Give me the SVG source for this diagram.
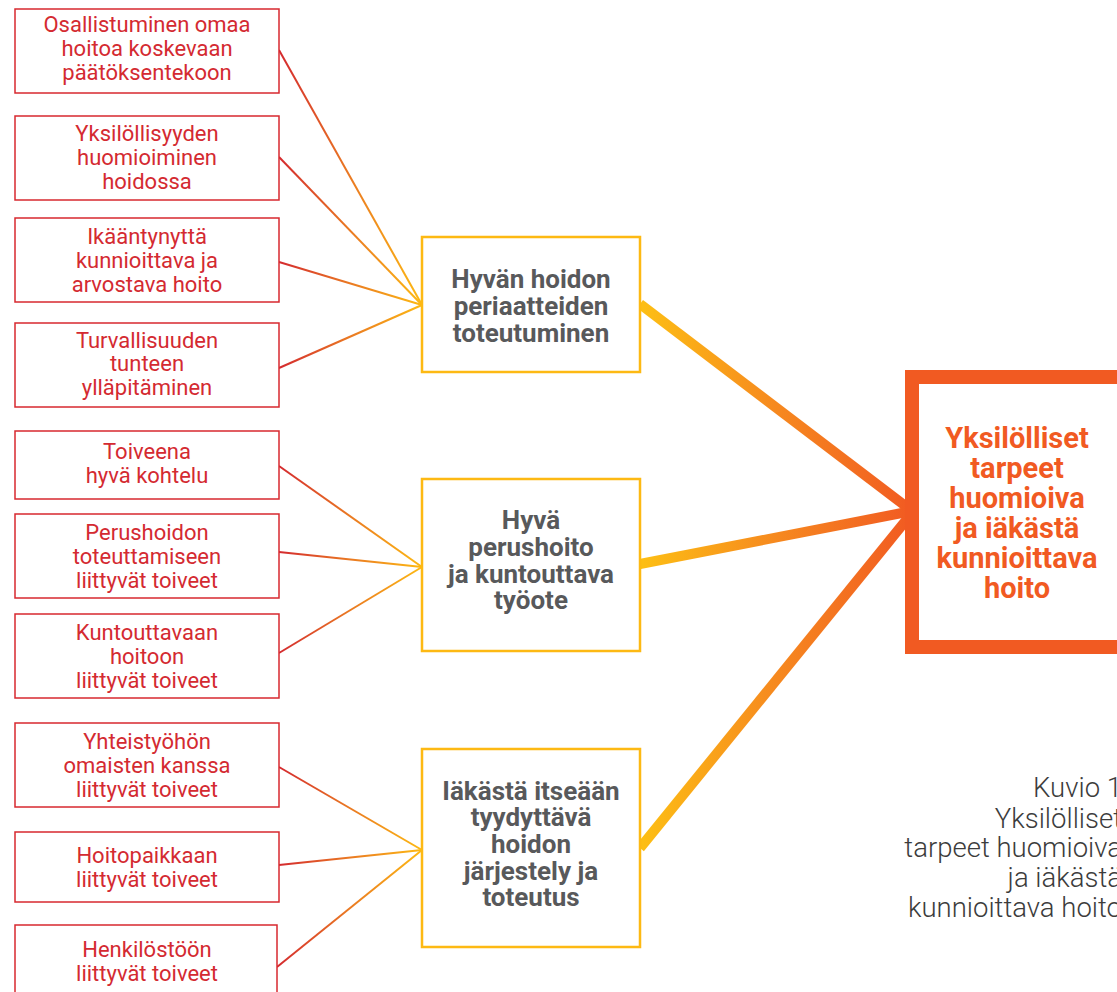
<svg xmlns="http://www.w3.org/2000/svg" width="1117" height="992" viewBox="0 0 1117 992">
<style>
.lbox{fill:#fff;stroke:#d7282f;stroke-width:1.5}
.ltxt{font-family:Roboto,"Liberation Sans",sans-serif;font-size:22px;fill:#d42a31;text-anchor:middle}
.mbox{fill:#fff;stroke:#fdb913;stroke-width:2.5}
.mtxt{font-family:Roboto,"Liberation Sans",sans-serif;font-weight:700;font-size:26px;fill:#58595b;text-anchor:middle}
.rbox{fill:#fff;stroke:#f15a22;stroke-width:14}
.rtxt{font-family:Roboto,"Liberation Sans",sans-serif;font-weight:700;font-size:29px;fill:#f15a22;text-anchor:middle}
.cap{font-family:Roboto,"Liberation Sans",sans-serif;font-weight:300;font-size:27.5px;fill:#3c3c3c;text-anchor:end}
.thin{fill:none;stroke:url(#gThin);stroke-width:2}
.thick{fill:none;stroke:url(#gThick);stroke-width:10}
</style>
<defs>
<linearGradient id="gThin" x1="0" y1="0" x2="1" y2="0">
<stop offset="0" stop-color="#d42a2f"/>
<stop offset="0.5" stop-color="#ea7a22"/>
<stop offset="1" stop-color="#fdb913"/>
</linearGradient>
<linearGradient id="gThick" x1="0" y1="0" x2="1" y2="0">
<stop offset="0" stop-color="#fdbf14"/>
<stop offset="0.5" stop-color="#f6891f"/>
<stop offset="1" stop-color="#f15a22"/>
</linearGradient>
</defs>
<rect width="1117" height="992" fill="#fff"/>
<g id="connectors">
<line class="thin" x1="279" y1="50" x2="422" y2="305"/>
<line class="thin" x1="279" y1="157" x2="422" y2="305"/>
<line class="thin" x1="279" y1="262" x2="422" y2="305"/>
<line class="thin" x1="279" y1="368" x2="422" y2="305"/>
<line class="thin" x1="279" y1="466" x2="422" y2="567"/>
<line class="thin" x1="279" y1="552" x2="422" y2="567"/>
<line class="thin" x1="279" y1="653" x2="422" y2="567"/>
<line class="thin" x1="279" y1="767" x2="422" y2="850"/>
<line class="thin" x1="279" y1="865" x2="422" y2="850"/>
<line class="thin" x1="277" y1="967" x2="422" y2="850"/>
<line class="thick" x1="640" y1="304" x2="912" y2="511"/>
<line class="thick" x1="640" y1="564" x2="912" y2="511"/>
<line class="thick" x1="640" y1="848" x2="912" y2="513"/>
</g>
<g id="n1"><rect class="lbox" x="15" y="9" width="264" height="84"/>
<text class="ltxt" x="147" y="32">Osallistuminen omaa</text><text class="ltxt" x="147" y="56">hoitoa koskevaan</text><text class="ltxt" x="147" y="80">päätöksentekoon</text></g>
<g id="n2"><rect class="lbox" x="15" y="116" width="264" height="84"/>
<text class="ltxt" x="147" y="141">Yksilöllisyyden</text><text class="ltxt" x="147" y="165">huomioiminen</text><text class="ltxt" x="147" y="189">hoidossa</text></g>
<g id="n3"><rect class="lbox" x="15" y="218" width="264" height="84"/>
<text class="ltxt" x="147" y="244">Ikääntynyttä</text><text class="ltxt" x="147" y="268">kunnioittava ja</text><text class="ltxt" x="147" y="292">arvostava hoito</text></g>
<g id="n4"><rect class="lbox" x="15" y="323" width="264" height="84"/>
<text class="ltxt" x="147" y="348">Turvallisuuden</text><text class="ltxt" x="147" y="371">tunteen</text><text class="ltxt" x="147" y="395">ylläpitäminen</text></g>
<g id="n5"><rect class="lbox" x="15" y="431" width="264" height="68"/>
<text class="ltxt" x="147" y="459">Toiveena</text><text class="ltxt" x="147" y="483">hyvä kohtelu</text></g>
<g id="n6"><rect class="lbox" x="15" y="514" width="264" height="84"/>
<text class="ltxt" x="147" y="540">Perushoidon</text><text class="ltxt" x="147" y="564">toteuttamiseen</text><text class="ltxt" x="147" y="588">liittyvät toiveet</text></g>
<g id="n7"><rect class="lbox" x="15" y="614" width="264" height="84"/>
<text class="ltxt" x="147" y="640">Kuntouttavaan</text><text class="ltxt" x="147" y="664">hoitoon</text><text class="ltxt" x="147" y="688">liittyvät toiveet</text></g>
<g id="n8"><rect class="lbox" x="15" y="723" width="264" height="84"/>
<text class="ltxt" x="147" y="749">Yhteistyöhön</text><text class="ltxt" x="147" y="773">omaisten kanssa</text><text class="ltxt" x="147" y="797">liittyvät toiveet</text></g>
<g id="n9"><rect class="lbox" x="15" y="832" width="264" height="70"/>
<text class="ltxt" x="147" y="863">Hoitopaikkaan</text><text class="ltxt" x="147" y="887">liittyvät toiveet</text></g>
<g id="n10"><rect class="lbox" x="15" y="925" width="262" height="84"/>
<text class="ltxt" x="147" y="957">Henkilöstöön</text><text class="ltxt" x="147" y="981">liittyvät toiveet</text></g>
<g id="m1"><rect class="mbox" x="422" y="237" width="218" height="135"/>
<text class="mtxt" x="531" y="288">Hyvän hoidon</text><text class="mtxt" x="531" y="315">periaatteiden</text><text class="mtxt" x="531" y="342">toteutuminen</text></g>
<g id="m2"><rect class="mbox" x="422" y="479" width="218" height="172"/>
<text class="mtxt" x="531" y="529">Hyvä</text><text class="mtxt" x="531" y="556">perushoito</text><text class="mtxt" x="531" y="583">ja kuntouttava</text><text class="mtxt" x="531" y="609">työote</text></g>
<g id="m3"><rect class="mbox" x="422" y="749" width="218" height="198"/>
<text class="mtxt" x="531" y="800">Iäkästä itseään</text><text class="mtxt" x="531" y="826">tyydyttävä</text><text class="mtxt" x="531" y="853">hoidon</text><text class="mtxt" x="531" y="880">järjestely ja</text><text class="mtxt" x="531" y="906">toteutus</text></g>
<g id="r1"><rect class="rbox" x="912" y="377" width="300" height="270"/>
<text class="rtxt" x="1017" y="448">Yksilölliset</text><text class="rtxt" x="1017" y="478">tarpeet</text><text class="rtxt" x="1017" y="508">huomioiva</text><text class="rtxt" x="1017" y="538">ja iäkästä</text><text class="rtxt" x="1017" y="568">kunnioittava</text><text class="rtxt" x="1017" y="598">hoito</text></g>
<g id="caption">
<text class="cap" x="1122" y="797">Kuvio 1</text><text class="cap" x="1122" y="828">Yksilölliset</text><text class="cap" x="1122" y="857">tarpeet huomioiva</text><text class="cap" x="1122" y="887">ja iäkästä</text><text class="cap" x="1122" y="917">kunnioittava hoito</text>
</g>
</svg>
